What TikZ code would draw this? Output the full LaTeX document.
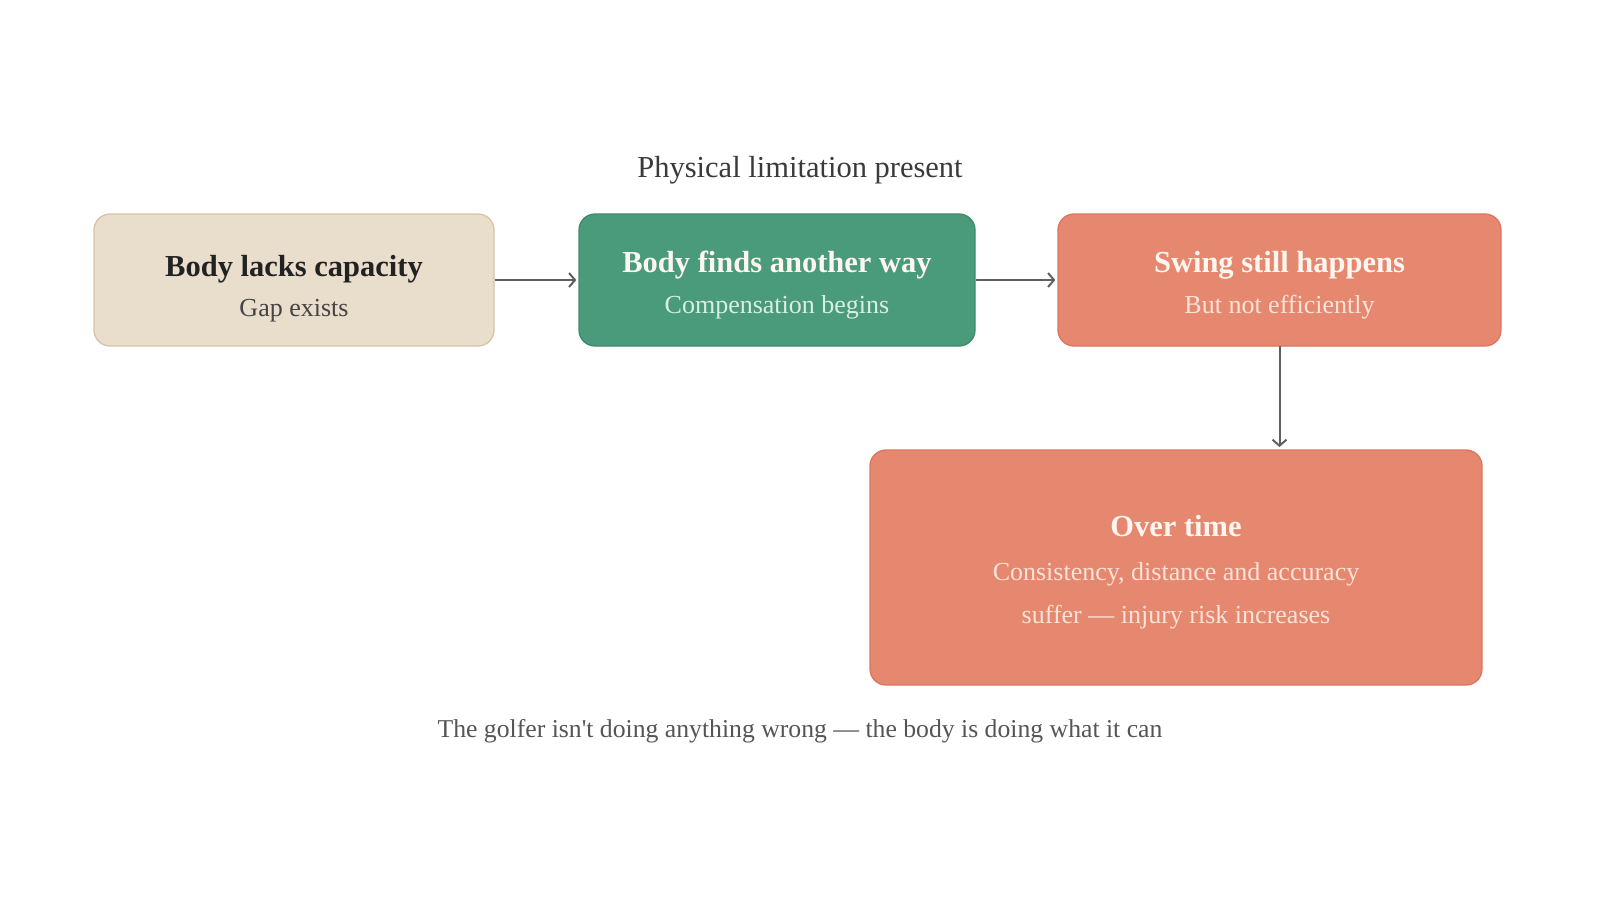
\documentclass[tikz,border=0pt]{standalone}
\usepackage{fontspec}
\setmainfont{Liberation Serif}
\usetikzlibrary{arrows.meta}
\definecolor{beigefill}{HTML}{E9DDCC}
\definecolor{beigeline}{HTML}{D6C4AA}
\definecolor{greenfill}{HTML}{4A9A7C}
\definecolor{greenline}{HTML}{3F8A6D}
\definecolor{salmonfill}{HTML}{E6886F}
\definecolor{salmonline}{HTML}{DA7660}
\definecolor{greensub}{HTML}{D8EFE3}
\definecolor{salmonsub}{HTML}{FCE3D8}
\definecolor{lighttitle}{HTML}{FFF6F0}
\definecolor{darktitle}{HTML}{222222}
\definecolor{darksub}{HTML}{444444}
\definecolor{headtext}{HTML}{3A3A3A}
\definecolor{foottext}{HTML}{555555}
\definecolor{arrowcol}{HTML}{606060}
\tikzset{
  boxbase/.style={rounded corners=16pt, line width=1.3pt, inner sep=0pt},
  beigebox/.style={boxbase, fill=beigefill, draw=beigeline},
  greenbox/.style={boxbase, fill=greenfill, draw=greenline},
  salmonbox/.style={boxbase, fill=salmonfill, draw=salmonline},
  boxtitle/.style={font=\fontsize{30.5}{36}\selectfont\bfseries, inner sep=0pt, anchor=center},
  boxsub/.style={font=\fontsize{26}{31}\selectfont, inner sep=0pt, anchor=center},
  flow/.style={draw=arrowcol, line width=2pt, -{Straight Barb[length=6pt,width=14pt,line width=2pt]}},
}
\begin{document}
\begin{tikzpicture}[x=1pt,y=-1pt]
\useasboundingbox (0,0) rectangle (1600,900);
\fill[white] (0,0) rectangle (1600,900);

\node[font=\fontsize{30.5}{36}\selectfont, text=headtext, inner sep=0pt] (head) at (800,170) {Physical limitation present};

\node[beigebox, minimum width=400pt, minimum height=132pt] (b1) at (294,280) {};
\node[greenbox, minimum width=396pt, minimum height=132pt] (b2) at (777,280) {};
\node[salmonbox, minimum width=443pt, minimum height=132pt] (b3) at (1279.5,280) {};
\node[salmonbox, minimum width=612pt, minimum height=235pt] (b4) at (1176,567.5) {};

\node[boxtitle, text=darktitle] (t1) at (294,269) {Body lacks capacity};
\node[boxsub, text=darksub] (s1) at (294,311) {Gap exists};
\node[boxtitle, text=lighttitle] (t2) at (777,265) {Body finds another way};
\node[boxsub, text=greensub] (s2) at (777,307) {Compensation begins};
\node[boxtitle, text=lighttitle] (t3) at (1279.5,265) {Swing still happens};
\node[boxsub, text=salmonsub] (s3) at (1279.5,307) {But not efficiently};
\node[boxtitle, text=lighttitle] (t4) at (1176,526) {Over time};
\node[boxsub, text=salmonsub] (s4a) at (1176,574) {Consistency, distance and accuracy};
\node[boxsub, text=salmonsub] (s4b) at (1176,617) {suffer — injury risk increases};

\node[font=\fontsize{25.7}{31}\selectfont, text=foottext, inner sep=0pt] (foot) at (800,731) {The golfer isn\textquotesingle t doing anything wrong — the body is doing what it can};

\coordinate (b3s) at (1279.5,346);
\coordinate (b4n) at (1279.5,447);
\draw[flow] (b1.east) -- ([xshift=-2pt]b2.west);
\draw[flow] (b2.east) -- ([xshift=-2pt]b3.west);
\draw[flow] (b3s) -- (b4n);
\end{tikzpicture}
\end{document}
